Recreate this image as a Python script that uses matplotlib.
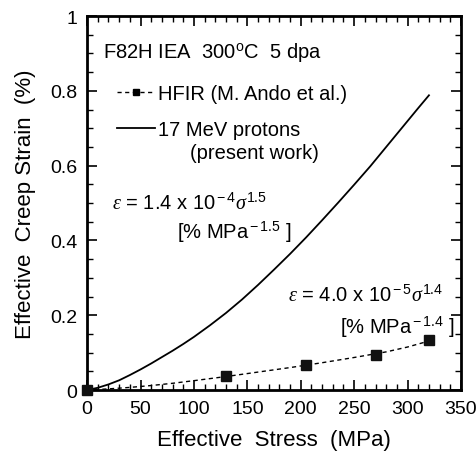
import matplotlib.pyplot as plt
from matplotlib.ticker import MultipleLocator
from matplotlib.lines import Line2D

plt.rcParams['font.family'] = ['Liberation Sans', 'DejaVu Sans']
plt.rcParams['mathtext.fontset'] = 'custom'
plt.rcParams['mathtext.rm'] = 'Liberation Sans'
plt.rcParams['mathtext.it'] = 'Liberation Serif:italic'

# 17 MeV protons (present work)
proton_stress = [0, 10, 20, 30, 40, 50, 60, 70, 80, 90, 100, 115, 130, 145, 160, 175, 190,
                 205, 220, 235, 250, 265, 280, 295, 310, 320]
proton_strain = [0, 0.006, 0.015, 0.026, 0.040, 0.055, 0.071, 0.088, 0.105, 0.123, 0.142,
                 0.173, 0.206, 0.242, 0.281, 0.322, 0.364, 0.408, 0.454, 0.501, 0.549,
                 0.598, 0.650, 0.702, 0.754, 0.788]

# HFIR fit (dashed) and data points
hfir_fit_stress = [0, 20, 40, 60, 80, 100, 130, 160, 190, 220, 250, 280, 300, 320]
hfir_fit_strain = [0, 0.003, 0.007, 0.012, 0.018, 0.025, 0.036, 0.048, 0.060, 0.073,
                   0.087, 0.102, 0.115, 0.131]
hfir_stress = [0, 130, 205, 270, 320]
hfir_strain = [0, 0.038, 0.066, 0.094, 0.135]

FS = 14.5

fig = plt.figure(figsize=(4.76, 4.56), dpi=100)
ax = fig.add_axes([0.183, 0.1425, 0.7855, 0.8202])

dash = (0, (3, 2.5))
ax.plot(hfir_fit_stress, hfir_fit_strain, color='black', ls=dash, lw=1.0)
ax.plot(hfir_stress, hfir_strain, ls='none', marker='s', ms=6.5, color='#111111',
        clip_on=False, zorder=5)
proton_line, = ax.plot(proton_stress, proton_strain, color='black', lw=1.3)

hfir_handle = Line2D([], [], color='black', ls=dash, lw=1.0, marker='s', ms=4.5)
ax.legend([hfir_handle, proton_line], ['HFIR (M. Ando et al.)', '17 MeV protons'],
          loc='upper left', bbox_to_anchor=(0.08, 0.817), frameon=False, fontsize=FS,
          handlelength=1.9, handletextpad=0.15, labelspacing=0.8, numpoints=1,
          borderpad=0, borderaxespad=0)
ax.text(96.4, 0.634, '(present work)', fontsize=FS, va='center')

ax.text(15, 0.905, 'F82H IEA  300$^{\\rm o}$C  5 dpa', fontsize=FS, va='center')
ax.text(23, 0.503, '$\\it{\\varepsilon}$ = 1.4 x 10$^{\\rm -4}$$\\it{\\sigma}^{\\rm 1.5}$',
        fontsize=FS, va='center')
ax.text(84, 0.425, '[% MPa$^{\\rm -1.5}$ ]', fontsize=FS, va='center')
ax.text(188, 0.257, '$\\it{\\varepsilon}$ = 4.0 x 10$^{\\rm -5}$$\\it{\\sigma}^{\\rm 1.4}$',
        fontsize=FS, va='center')
ax.text(237, 0.171, '[% MPa$^{\\rm -1.4}$ ]', fontsize=FS, va='center')

ax.set_xlim(0, 350)
ax.set_ylim(0, 1)
ax.xaxis.set_major_locator(MultipleLocator(50))
ax.xaxis.set_minor_locator(MultipleLocator(10))
ax.yaxis.set_minor_locator(MultipleLocator(0.05))
ax.set_yticks([0, 0.2, 0.4, 0.6, 0.8, 1.0])
ax.set_yticklabels(['0', '0.2', '0.4', '0.6', '0.8', '1'])
ax.tick_params(which='both', direction='in', top=True, right=True, labelsize=14, pad=7)
ax.tick_params(which='major', length=7, width=1.2)
ax.tick_params(which='minor', length=4, width=1.0)
for s in ax.spines.values():
    s.set_linewidth(2)

ax.set_xlabel('Effective  Stress  (MPa)', fontsize=16, labelpad=9)
ax.set_ylabel('Effective  Creep Strain  (%)', fontsize=16, labelpad=10)

fig.savefig('out.png', dpi=100)
